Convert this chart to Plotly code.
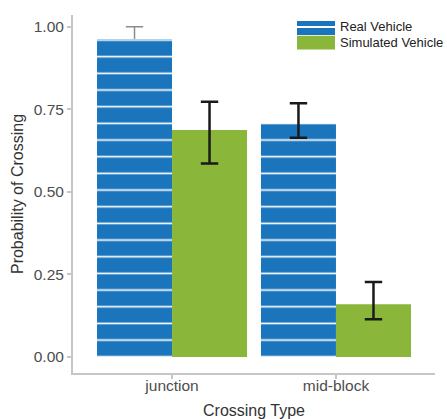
import math
import plotly.graph_objects as go

# Data: probability of crossing by crossing type
crossing_types = ["junction", "mid-block"]
real_prob = [0.963, 0.707]
real_upper = [1.000, 0.768]
real_lower = [0.926, 0.664]
sim_prob = [0.687, 0.160]
sim_upper = [0.773, 0.227]
sim_lower = [0.586, 0.114]
series_names = ["Real Vehicle", "Simulated Vehicle"]
y_ticks = [0.0, 0.25, 0.5, 0.75, 1.0]

BLUE = "#1b75bc"
GREEN = "#8ab63a"
FONT = "Liberation Sans, Arial, Helvetica, sans-serif"
AXIS_GREY = "#c6c6c6"

W, H = 447, 419
M = dict(l=73, r=12, t=15, b=46)

stripes = dict(shape="-", size=16.67, solidity=0.1, fgcolor="white",
               bgcolor=BLUE, fillmode="replace")


def err(upper, value, lower, color, width):
    return dict(type="data", symmetric=False,
                array=[u - v for u, v in zip(upper, value)],
                arrayminus=[v - l for v, l in zip(value, lower)],
                color=color, thickness=width, width=8.7)


fig = go.Figure()

# Junction (real) error bar sits behind its bar: drawn from a transparent carrier first
fig.add_trace(go.Bar(
    x=crossing_types[:1], y=real_prob[:1], offsetgroup="real", showlegend=False,
    marker=dict(color="rgba(0,0,0,0)", line=dict(width=0)),
    error_y=err(real_upper[:1], real_prob[:1], real_lower[:1], "#8c8c8c", 1.5),
    hoverinfo="skip",
))

# Real vehicle bars (striped); only the mid-block bar carries a front error bar
fig.add_trace(go.Bar(
    x=crossing_types[:1], y=real_prob[:1], name=series_names[0],
    offsetgroup="real", showlegend=False,
    marker=dict(color=BLUE, pattern=stripes, line=dict(width=0)),
    hoverinfo="skip",
))
fig.add_trace(go.Bar(
    x=crossing_types[1:], y=real_prob[1:], name=series_names[0],
    offsetgroup="real", showlegend=False,
    marker=dict(color=BLUE, pattern=stripes, line=dict(width=0)),
    error_y=err(real_upper[1:], real_prob[1:], real_lower[1:], "#1a1a1a", 2.5),
    hoverinfo="skip",
))

# Simulated vehicle bars
fig.add_trace(go.Bar(
    x=crossing_types, y=sim_prob, name=series_names[1],
    offsetgroup="sim", showlegend=False,
    marker=dict(color=GREEN, line=dict(width=0)),
    error_y=err(sim_upper, sim_prob, sim_lower, "#1a1a1a", 2.5),
    hoverinfo="skip",
))

# Legend keys drawn in paper space (pixel positions converted to paper fractions)
pw = W - M["l"] - M["r"]
ph = H - M["t"] - M["b"]
def px(x):
    return (x - M["l"]) / pw
def py(y):
    return (H - M["b"] - y) / ph

shapes = [
    dict(type="rect", xref="paper", yref="paper", x0=px(297), x1=px(335),
         y0=py(35), y1=py(21), fillcolor=BLUE, line=dict(width=0), layer="above"),
    dict(type="line", xref="paper", yref="paper", x0=px(297), x1=px(335),
         y0=py(27), y1=py(27), line=dict(color="white", width=2), layer="above"),
    dict(type="rect", xref="paper", yref="paper", x0=px(297), x1=px(335),
         y0=py(49.5), y1=py(35.7), fillcolor=GREEN, line=dict(width=0), layer="above"),
]
annotations = [
    dict(xref="paper", yref="paper", x=px(338), y=py(26), text=series_names[0],
         showarrow=False, xanchor="left", yanchor="middle",
         font=dict(family=FONT, size=13, color="#222222")),
    dict(xref="paper", yref="paper", x=px(338), y=py(42), text=series_names[1],
         showarrow=False, xanchor="left", yanchor="middle",
         font=dict(family=FONT, size=13, color="#222222")),
]

fig.update_layout(
    template="none",
    width=W, height=H,
    margin=M,
    paper_bgcolor="white", plot_bgcolor="white",
    barmode="group", bargap=0.085, bargroupgap=0,
    showlegend=False,
    shapes=shapes, annotations=annotations,
    font=dict(family=FONT, color="#4d4d4d"),
)

fig.update_xaxes(
    type="category", range=[-0.604, 1.604],
    showline=True, linecolor=AXIS_GREY, linewidth=2,
    ticks="outside", ticklen=4, tickwidth=1.5, tickcolor=AXIS_GREY,
    showgrid=False, zeroline=False,
    ticklabelstandoff=-7,
    tickfont=dict(family=FONT, size=15.5, color="#4d4d4d"),
    title=dict(text="Crossing Type", font=dict(family=FONT, size=16, color="#333333"),
               standoff=12),
)
fig.update_yaxes(
    range=[-0.0484, 1.0354],
    tickvals=y_ticks, tickformat=".2f",
    showline=True, linecolor=AXIS_GREY, linewidth=2,
    ticks="outside", ticklen=4, tickwidth=1.5, tickcolor=AXIS_GREY,
    showgrid=False, zeroline=False,
    tickfont=dict(family=FONT, size=15.5, color="#4d4d4d"),
    title=dict(text="Probability of Crossing", font=dict(family=FONT, size=16, color="#333333"),
               standoff=6),
)

fig.write_html("out.html")
